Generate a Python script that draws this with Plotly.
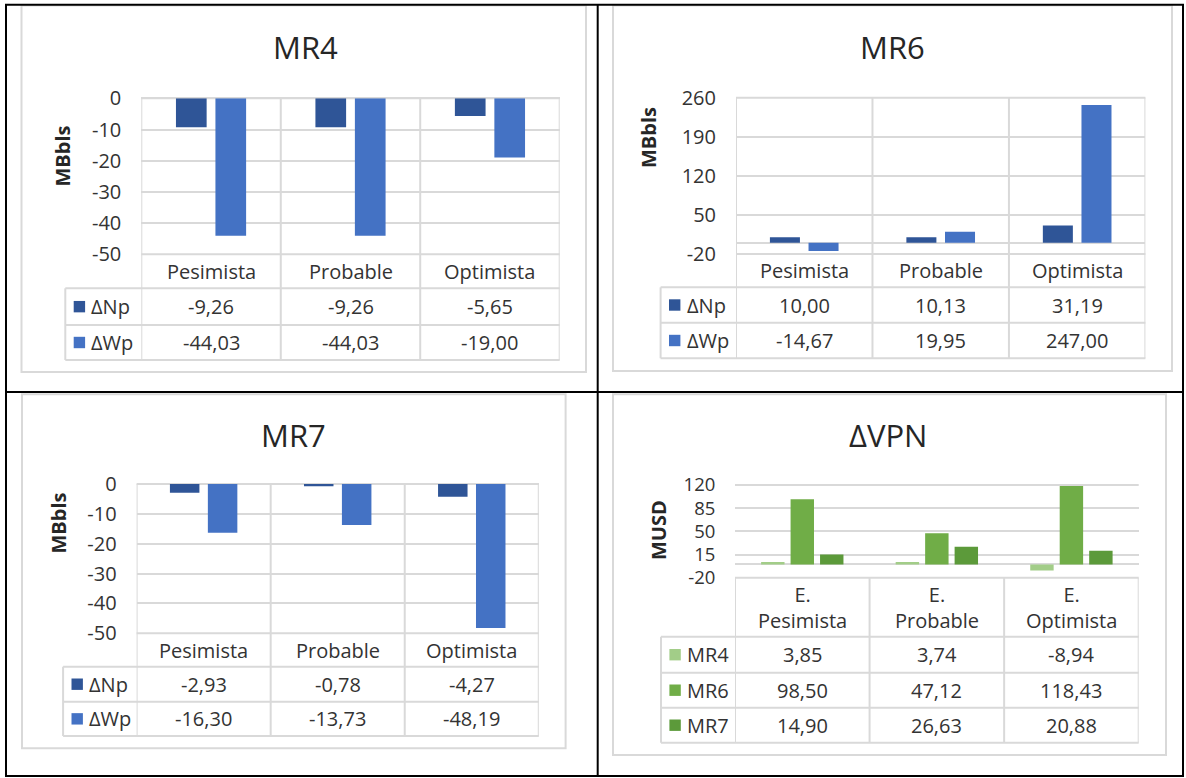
import plotly.graph_objects as go

# ---------------- data ----------------
categories = ["Pesimista", "Probable", "Optimista"]
vpn_categories = ["E. Pesimista", "E. Probable", "E. Optimista"]

mr4_np = [-9.26, -9.26, -5.65]
mr4_wp = [-44.03, -44.03, -19.00]

mr6_np = [10.00, 10.13, 31.19]
mr6_wp = [-14.67, 19.95, 247.00]

mr7_np = [-2.93, -0.78, -4.27]
mr7_wp = [-16.30, -13.73, -48.19]

vpn_mr4 = [3.85, 3.74, -8.94]
vpn_mr6 = [98.50, 47.12, 118.43]
vpn_mr7 = [14.90, 26.63, 20.88]

series_names_mr = ["ΔNp", "ΔWp"]
series_names_vpn = ["MR4", "MR6", "MR7"]

ticks_mr4 = [0, -10, -20, -30, -40, -50]
ticks_mr6 = [260, 190, 120, 50, -20]
ticks_mr7 = [0, -10, -20, -30, -40, -50]
ticks_vpn = [120, 85, 50, 15, -20]

# ---------------- style ----------------
W, H = 1186, 778
FONT = "Open Sans"
TXT = "#333333"
GRID = "#D9D9D9"
C_NP = "#2F5597"
C_WP = "#4472C4"
C_G1 = "#A2CD88"
C_G2 = "#70AD47"
C_G3 = "#5C9A3A"


def X(px):
    return px / W


def Y(py):
    return 1 - py / H


def fmt(v):
    return f"{v:.2f}".replace(".", ",")


charts = [
    dict(title="MR4", title_pos=(305, 47), xa="x", ya="y", plot=(141.3, 98.3, 559.7, 254.3),
         yrange=(-50, 0), ticks=ticks_mr4, tfs=20, ytitle="MBbls", ytitle_pos=(61.5, 156),
         table_left=65.3, cat_row=(254.3, 288.3), rows=[(288.3, 325), (325, 360)],
         box=(21.5, 5.5, 586, 372), cats=categories, cat_labels=categories,
         series=[(series_names_mr[0], mr4_np, C_NP), (series_names_mr[1], mr4_wp, C_WP)],
         vlines=True),
    dict(title="MR6", title_pos=(892, 47), xa="x2", ya="y2", plot=(736, 97.7, 1145.4, 254),
         yrange=(-20, 260), ticks=ticks_mr6, tfs=20, ytitle="MBbls", ytitle_pos=(648.5, 137.5),
         table_left=660.6, cat_row=(254, 287.3), rows=[(287.3, 322.7), (322.7, 358.3)],
         box=(613, 5.5, 1172, 371), cats=categories, cat_labels=categories,
         series=[(series_names_mr[0], mr6_np, C_NP), (series_names_mr[1], mr6_wp, C_WP)],
         vlines=True),
    dict(title="MR7", title_pos=(293, 435), xa="x3", ya="y3", plot=(136.6, 484, 538.8, 633.3),
         yrange=(-50, 0), ticks=ticks_mr7, tfs=20, ytitle="MBbls", ytitle_pos=(57.5, 523),
         table_left=63.1, cat_row=(633.3, 666.7), rows=[(666.7, 701.7), (701.7, 736)],
         box=(22, 394.3, 565.6, 748.3), cats=categories, cat_labels=categories,
         series=[(series_names_mr[0], mr7_np, C_NP), (series_names_mr[1], mr7_wp, C_WP)],
         vlines=True),
    dict(title="ΔVPN", title_pos=(888, 435), xa="x4", ya="y4", plot=(735, 485, 1138.7, 577.7),
         yrange=(-20, 120), ticks=ticks_vpn, tfs=18.5, ytitle="MUSD", ytitle_pos=(658, 530),
         table_left=661, cat_row=(577.7, 636.7), rows=[(636.7, 672.7), (672.7, 707.7), (707.7, 742.7)],
         box=(613, 394.3, 1166, 755), cats=vpn_categories,
         cat_labels=[c.replace(" ", "<br>") for c in vpn_categories],
         series=[(series_names_vpn[0], vpn_mr4, C_G1), (series_names_vpn[1], vpn_mr6, C_G2),
                 (series_names_vpn[2], vpn_mr7, C_G3)],
         vlines=False),
]

fig = go.Figure()
shapes = []
annotations = []
layout_axes = {}


def line(x0, y0, x1, y1, color=GRID, width=2, xref="paper", layer="above"):
    shapes.append(dict(type="line", x0=x0, y0=y0, x1=x1, y1=y1, xref=xref, yref="paper",
                       line=dict(color=color, width=width), layer=layer))


for ch in charts:
    px0, py0, px1, py1 = ch["plot"]
    xa, ya = ch["xa"], ch["ya"]
    n = len(ch["series"])
    if n == 2:
        bw, gap = 0.22, 0.063
    else:
        bw, gap = 0.174, 0.045
    total = n * bw + (n - 1) * gap
    for i, (name, vals, col) in enumerate(ch["series"]):
        fig.add_trace(go.Bar(x=ch["cats"], y=vals, name=name, xaxis=xa, yaxis=ya,
                             marker=dict(color=col, line=dict(width=0)),
                             width=bw, offset=-total / 2 + i * (bw + gap),
                             showlegend=False, hoverinfo="skip"))

    xkey = "xaxis" + xa[1:]
    ykey = "yaxis" + ya[1:]
    layout_axes[xkey] = dict(domain=[X(px0), X(px1)], anchor=ya, type="category",
                             range=[-0.5, 2.5], showticklabels=False, showgrid=False,
                             zeroline=False, showline=False, ticks="", fixedrange=True)
    layout_axes[ykey] = dict(domain=[Y(py1), Y(py0)], anchor=xa, range=list(ch["yrange"]),
                             tickvals=ch["ticks"], ticktext=[str(t) for t in ch["ticks"]],
                             showgrid=True, gridcolor=GRID, gridwidth=2,
                             zeroline=True, zerolinecolor=GRID, zerolinewidth=2,
                             showline=False, ticks="outside", ticklen=15,
                             tickcolor="rgba(0,0,0,0)", automargin=False,
                             tickfont=dict(family=FONT, size=ch["tfs"], color=TXT), fixedrange=True)

    # chart frame
    bx0, by0, bx1, by1 = ch["box"]
    shapes.append(dict(type="rect", x0=X(bx0), y0=Y(by0), x1=X(bx1), y1=Y(by1),
                       xref="paper", yref="paper", line=dict(color=GRID, width=2),
                       fillcolor="rgba(0,0,0,0)", layer="below"))

    # title
    annotations.append(dict(text=ch["title"], x=X(ch["title_pos"][0]), y=Y(ch["title_pos"][1]),
                            xref="paper", yref="paper", showarrow=False, xanchor="center",
                            yanchor="middle", font=dict(family=FONT, size=31, color="#262626")))
    # y title
    annotations.append(dict(text="<b>" + ch["ytitle"] + "</b>", x=X(ch["ytitle_pos"][0]),
                            y=Y(ch["ytitle_pos"][1]), xref="paper", yref="paper",
                            showarrow=False, textangle=-90, xanchor="center", yanchor="middle",
                            font=dict(family=FONT, size=20, color="#262626")))

    tl = ch["table_left"]
    ct, cb = ch["cat_row"]
    tb = ch["rows"][-1][1]
    # plot top / bottom borders
    line(X(px0), Y(py0), X(px1), Y(py0), layer="below")
    line(X(px0), Y(ct), X(px1), Y(ct))
    # vertical column lines
    vtop = py0 if ch["vlines"] else ct
    for xv in [-0.5, 0.5, 1.5, 2.5]:
        line(xv, Y(vtop), xv, Y(tb), xref=xa, layer="below")
    # table horizontal lines
    for (r0, r1) in ch["rows"]:
        line(X(tl), Y(r0), X(px1), Y(r0))
    line(X(tl), Y(tb), X(px1), Y(tb))
    line(X(tl), Y(ch["rows"][0][0]), X(tl), Y(tb))

    # category labels
    for c, lab in zip(ch["cats"], ch["cat_labels"]):
        annotations.append(dict(text=lab, x=c, xref=xa, y=Y((ct + cb) / 2), yref="paper",
                                showarrow=False, xanchor="center", yanchor="middle",
                                font=dict(family=FONT, size=20, color=TXT)))
    # table rows
    for (name, vals, col), (r0, r1) in zip(ch["series"], ch["rows"]):
        ym = (r0 + r1) / 2
        shapes.append(dict(type="rect", x0=X(tl + 8.4), x1=X(tl + 19.8), y0=Y(ym - 5.7),
                           y1=Y(ym + 5.7), xref="paper", yref="paper",
                           fillcolor=col, line=dict(width=0)))
        annotations.append(dict(text=name, x=X(tl + 24), y=Y(ym), xref="paper", yref="paper",
                                showarrow=False, xanchor="left", yanchor="middle",
                                font=dict(family=FONT, size=20, color=TXT)))
        for c, v in zip(ch["cats"], vals):
            annotations.append(dict(text=fmt(v), x=c, xref=xa, y=Y(ym), yref="paper",
                                    showarrow=False, xanchor="center", yanchor="middle",
                                    font=dict(family=FONT, size=20, color=TXT)))

# outer black table lines
shapes.append(dict(type="rect", x0=X(6), y0=Y(4.7), x1=X(1183), y1=Y(776), xref="paper",
                   yref="paper", line=dict(color="black", width=2), fillcolor="rgba(0,0,0,0)"))
line(X(597.7), Y(4.7), X(597.7), Y(776), color="black", width=2)
line(X(6), Y(392), X(1183), Y(392), color="black", width=2)

fig.update_layout(width=W, height=H, margin=dict(l=0, r=0, t=0, b=0, autoexpand=False),
                  paper_bgcolor="white", plot_bgcolor="rgba(0,0,0,0)",
                  barmode="overlay", shapes=shapes, annotations=annotations,
                  showlegend=False, **layout_axes)

# pin the figure to the top-left corner of the page
post = (
    "document.documentElement.style.margin='0';"
    "document.body.style.margin='0';"
    "document.body.style.overflow='hidden';"
    "var gd=document.getElementsByClassName('plotly-graph-div')[0];"
    "gd.style.position='fixed';gd.style.left='0px';gd.style.top='0px';"
)

fig.write_html("out.html", config={"displayModeBar": False}, post_script=post)
